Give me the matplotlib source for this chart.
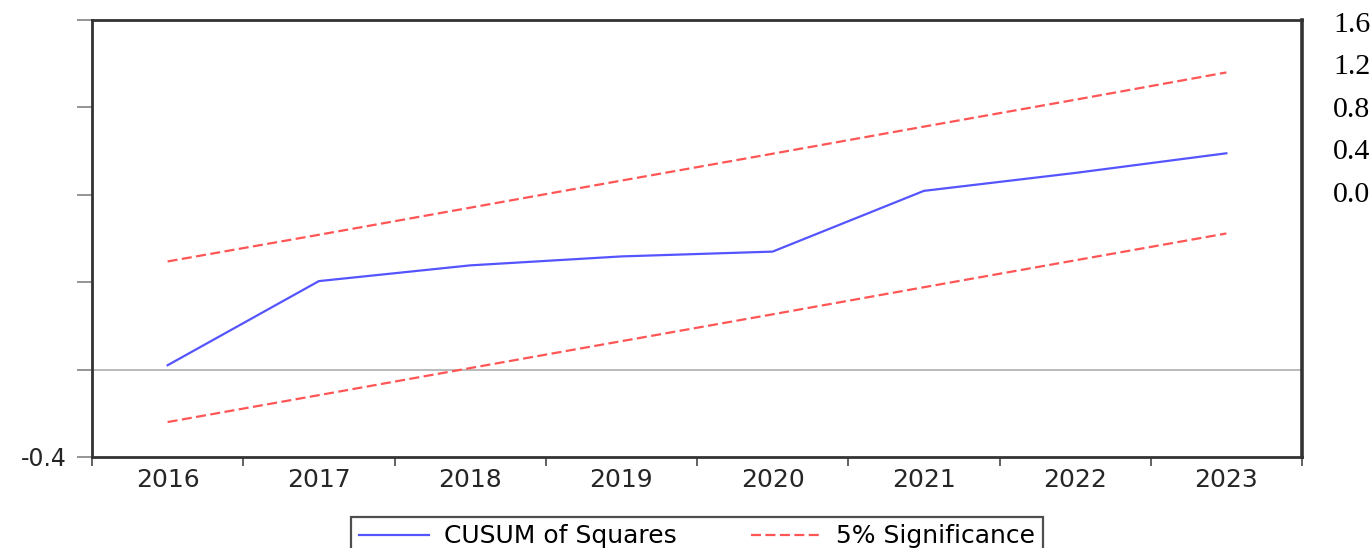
import numpy as np
import matplotlib
matplotlib.use("Agg")
import matplotlib.pyplot as plt
from matplotlib.ticker import FixedLocator, NullFormatter, FixedFormatter

# data
years = ["2016", "2017", "2018", "2019", "2020", "2021", "2022", "2023"]
cusum_sq = [0.02, 0.405, 0.477, 0.518, 0.54, 0.818, 0.90, 0.99]
upper_5 = [0.495, 0.617, 0.741, 0.865, 0.988, 1.112, 1.235, 1.36]
lower_5 = [-0.24, -0.117, 0.007, 0.13, 0.253, 0.377, 0.50, 0.623]
yticks = [-0.4, 0.0, 0.4, 0.8, 1.2, 1.6]
ytick_labels = ["-0.4", "", "", "", "", ""]
side_labels = ["1.6", "1.2", "0.8", "0.4", "0.0"]

fig = plt.figure(figsize=(13.72, 5.48), dpi=100)
ax = fig.add_axes([92/1372, 91/548, 1210/1372, 437/548])

x = np.arange(len(years)) + 0.5
dash = (0, (4.5, 2))
ax.axhline(0, color="#b4b4b4", lw=1.3, zorder=1)
ax.plot(x, cusum_sq, color="#5555ff", lw=1.6, label="CUSUM of Squares", zorder=3)
ax.plot(x, upper_5, color="#ff5555", lw=1.6, ls=dash,
        label="5% Significance", zorder=2)
ax.plot(x, lower_5, color="#ff5555", lw=1.6, ls=dash, zorder=2)

ax.set_xlim(0, len(years))
ax.set_ylim(-0.4, 1.6)

ax.xaxis.set_major_locator(FixedLocator(np.arange(len(years) + 1)))
ax.xaxis.set_major_formatter(NullFormatter())
ax.xaxis.set_minor_locator(FixedLocator(x))
ax.xaxis.set_minor_formatter(FixedFormatter(years))
ax.tick_params(axis="x", which="major", direction="out", length=6.5,
               width=1.3, color="#555555")
ax.tick_params(axis="x", which="minor", length=0, pad=8,
               labelsize=18, labelcolor="#262626")

ax.set_yticks(yticks)
ax.set_yticklabels(ytick_labels)
ax.tick_params(axis="y", direction="out", length=11, width=1.3,
               color="#8c8c8c", labelsize=17, labelcolor="#262626", pad=7)

for s in ax.spines.values():
    s.set_linewidth(2)
    s.set_color("#333333")
ax.spines["right"].set_linewidth(2.6)

for lab in ax.get_xticklabels(minor=True) + ax.get_yticklabels():
    lab.set_family("DejaVu Sans")

# stray labels on the right side
for i, t in enumerate(side_labels):
    fig.text(1333/1372, 1 - (25 + i * 42.5)/548, t, family="Liberation Serif",
             fontsize=21.5, ha="left", va="center", color="black")

leg = fig.legend(loc="upper center", bbox_to_anchor=(697/1372, 31/548),
                 ncol=2, frameon=True, fancybox=False, fontsize=18,
                 handlelength=2.8, columnspacing=3.0, borderpad=0.3,
                 handletextpad=0.6, borderaxespad=0)
leg.get_frame().set_edgecolor("#222222")
leg.get_frame().set_linewidth(1.6)

fig.savefig("out.png", dpi=100)
